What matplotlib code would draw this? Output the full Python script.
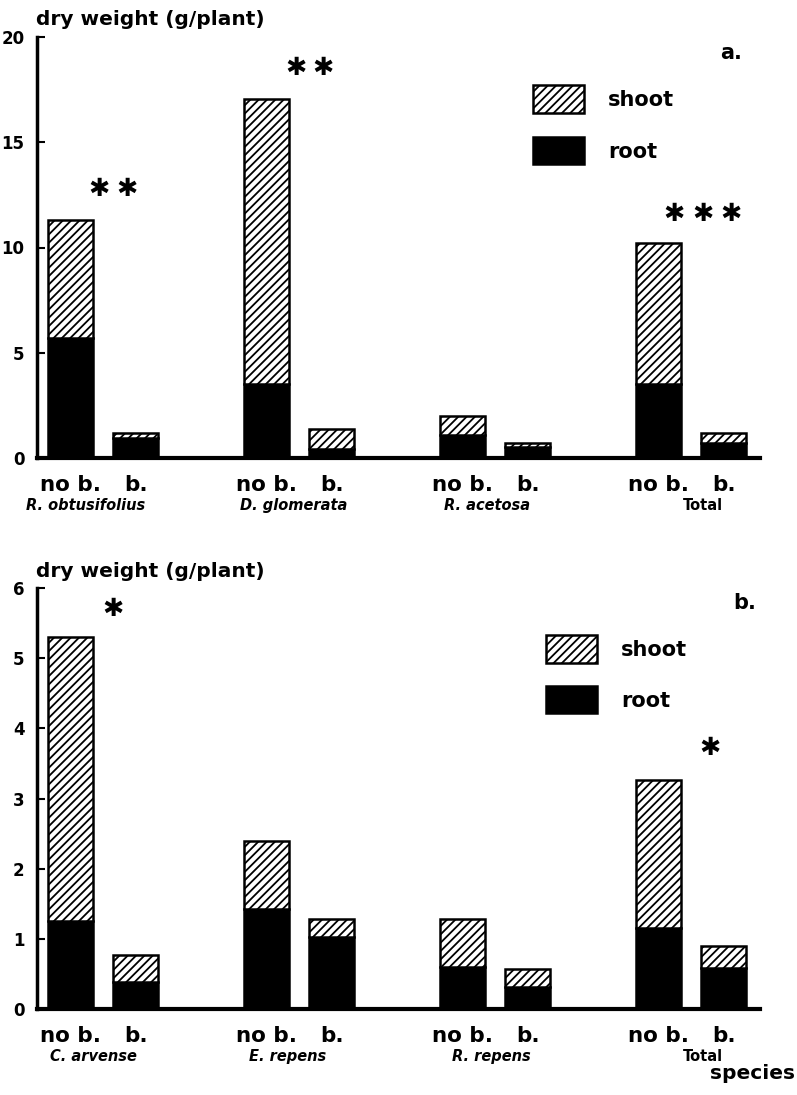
import matplotlib
matplotlib.use("Agg")
import matplotlib.pyplot as plt
import numpy as np
from matplotlib.patches import Rectangle
from matplotlib.textpath import TextPath
from matplotlib.font_manager import FontProperties

plt.rcParams['font.family'] = ['DejaVu Sans']
plt.rcParams['hatch.linewidth'] = 1.3

# Panel a
species_a = ["R. obtusifolius", "D. glomerata", "R. acetosa", "Total"]
total_nob_a = [11.3, 17.05, 2.0, 10.2]
root_nob_a = [5.7, 3.5, 1.1, 3.5]
total_b_a = [1.2, 1.4, 0.7, 1.2]
root_b_a = [0.95, 0.45, 0.5, 0.72]
stars_a = [2, 2, 0, 3]

# Panel b
species_b = ["C. arvense", "E. repens", "R. repens", "Total"]
total_nob_b = [5.3, 2.4, 1.28, 3.27]
root_nob_b = [1.25, 1.42, 0.6, 1.16]
total_b_b = [0.77, 1.28, 0.57, 0.9]
root_b_b = [0.38, 1.02, 0.31, 0.58]
stars_b = [1, 0, 0, 1]

treat_labels = ["no b.", "b."]

W, H = 797, 1095
fig = plt.figure(figsize=(W / 100, H / 100), dpi=100)

def axes_px(x0, y0, x1, y1):
    return fig.add_axes([x0 / W, 1 - y1 / H, (x1 - x0) / W, (y1 - y0) / H])

off = 0.333
bw = 0.23
STAR = '\u2731'
fp_star = FontProperties(family='DejaVu Sans', weight='bold')
_e = TextPath((0, 0), STAR, size=10, prop=fp_star).get_extents()
STAR_SIZE = 10 * (18 * 0.72) / max(_e.width, 1e-6)
ext = TextPath((0, 0), STAR, size=STAR_SIZE, prop=fp_star).get_extents()
scx = (ext.x0 + ext.x1) / 2
scy = (ext.y0 + ext.y1) / 2

def draw_star(ax, x, y):
    ax.annotate(STAR, xy=(x, y), xytext=(-scx, -scy), textcoords='offset points',
                ha='left', va='baseline', fontsize=STAR_SIZE, fontweight='bold',
                annotation_clip=False)

def panel(ax, species, tn, rn, tb, rb, stars, ymax, yticks, star_pos, name_offsets):
    x = np.arange(len(species))
    xn = x
    xb = x + off
    rn = np.array(rn); tn = np.array(tn); rb = np.array(rb); tb = np.array(tb)
    ax.bar(xn, rn, width=bw, color='black', edgecolor='black', linewidth=1.8)
    ax.bar(xn, tn - rn, bottom=rn, width=bw, color='white', edgecolor='black',
           hatch='////', linewidth=1.8)
    ax.bar(xb, rb, width=bw, color='black', edgecolor='black', linewidth=1.8)
    ax.bar(xb, tb - rb, bottom=rb, width=bw, color='white', edgecolor='black',
           hatch='////', linewidth=1.8)
    ax.set_xlim(-0.171, 3.518)
    ax.set_ylim(0, ymax)
    ax.set_yticks(yticks)
    ax.set_yticklabels([str(t) for t in yticks], fontsize=12, fontweight='bold')
    ax.tick_params(axis='y', direction='in', length=6, width=1.5, pad=9)
    ax.set_xticks([])
    for s in ['top', 'right']:
        ax.spines[s].set_visible(False)
    ax.spines['left'].set_linewidth(2.5)
    ax.spines['bottom'].set_linewidth(3)
    tr = ax.get_xaxis_transform()
    for i in range(len(species)):
        ax.text(xn[i], -0.064, treat_labels[0], transform=tr,
                ha='center', va='center', fontsize=15.5, fontweight='bold')
        ax.text(xb[i], -0.064, treat_labels[1], transform=tr,
                ha='center', va='center', fontsize=15.5, fontweight='bold')
        ax.text(x[i] + off / 2 + name_offsets[i], -0.114, species[i], transform=tr,
                ha='center', va='center', fontsize=10.5, fontweight='bold',
                style='normal' if species[i] == 'Total' else 'italic')
    for i, n in enumerate(stars):
        if n:
            xs, ys, dx = star_pos[i]
            for k in range(n):
                draw_star(ax, xs + k * dx, ys)
    return ax

# Panel a
axa = axes_px(37, 37, 760, 458)
panel(axa, species_a, total_nob_a, root_nob_a, total_b_a, root_b_a, stars_a,
      20, [0, 5, 10, 15, 20],
      {0: (0.145, 12.87, 0.143), 1: (1.150, 18.62, 0.140), 3: (3.079, 11.69, 0.146)},
      [-0.09, -0.03, -0.04, 0.06])
fig.text(720 / W, 1 - 53 / H, "a.", fontsize=15, fontweight='bold', ha='left', va='center')
fig.text(36 / W, 1 - 25 / H, "dry weight (g/plant)", fontsize=14.5, fontweight='bold',
         ha='left', va='baseline')

# Panel b
axb = axes_px(37, 588, 760, 1009)
panel(axb, species_b, total_nob_b, root_nob_b, total_b_b, root_b_b, stars_b,
      6, [0, 1, 2, 3, 4, 5, 6],
      {0: (0.217, 5.73, 0.0), 3: (3.263, 3.75, 0.0)},
      [-0.05, -0.06, -0.02, 0.06])
fig.text(733 / W, 1 - 603 / H, "b.", fontsize=15, fontweight='bold', ha='left', va='center')
fig.text(36 / W, 1 - 577 / H, "dry weight (g/plant)", fontsize=14.5, fontweight='bold',
         ha='left', va='baseline')
fig.text(795 / W, 1 - 1079 / H, "species", fontsize=14.5, fontweight='bold',
         ha='right', va='baseline')

def legend(y_shoot, y_root, x0):
    fig.patches.append(Rectangle((x0 / W, 1 - (y_shoot + 28) / H), 51 / W, 28 / H,
                                 transform=fig.transFigure, facecolor='white',
                                 edgecolor='black', hatch='////', linewidth=1.8))
    fig.patches.append(Rectangle((x0 / W, 1 - (y_root + 27) / H), 51 / W, 27 / H,
                                 transform=fig.transFigure, facecolor='black',
                                 edgecolor='black', linewidth=1.8))
    fig.text((x0 + 75) / W, 1 - (y_shoot + 15) / H, "shoot", fontsize=15,
             fontweight='bold', ha='left', va='center')
    fig.text((x0 + 75) / W, 1 - (y_root + 15) / H, "root", fontsize=15,
             fontweight='bold', ha='left', va='center')

legend(85, 137, 533)
legend(635, 686, 546)

fig.savefig("out.png", dpi=100, facecolor='white')
